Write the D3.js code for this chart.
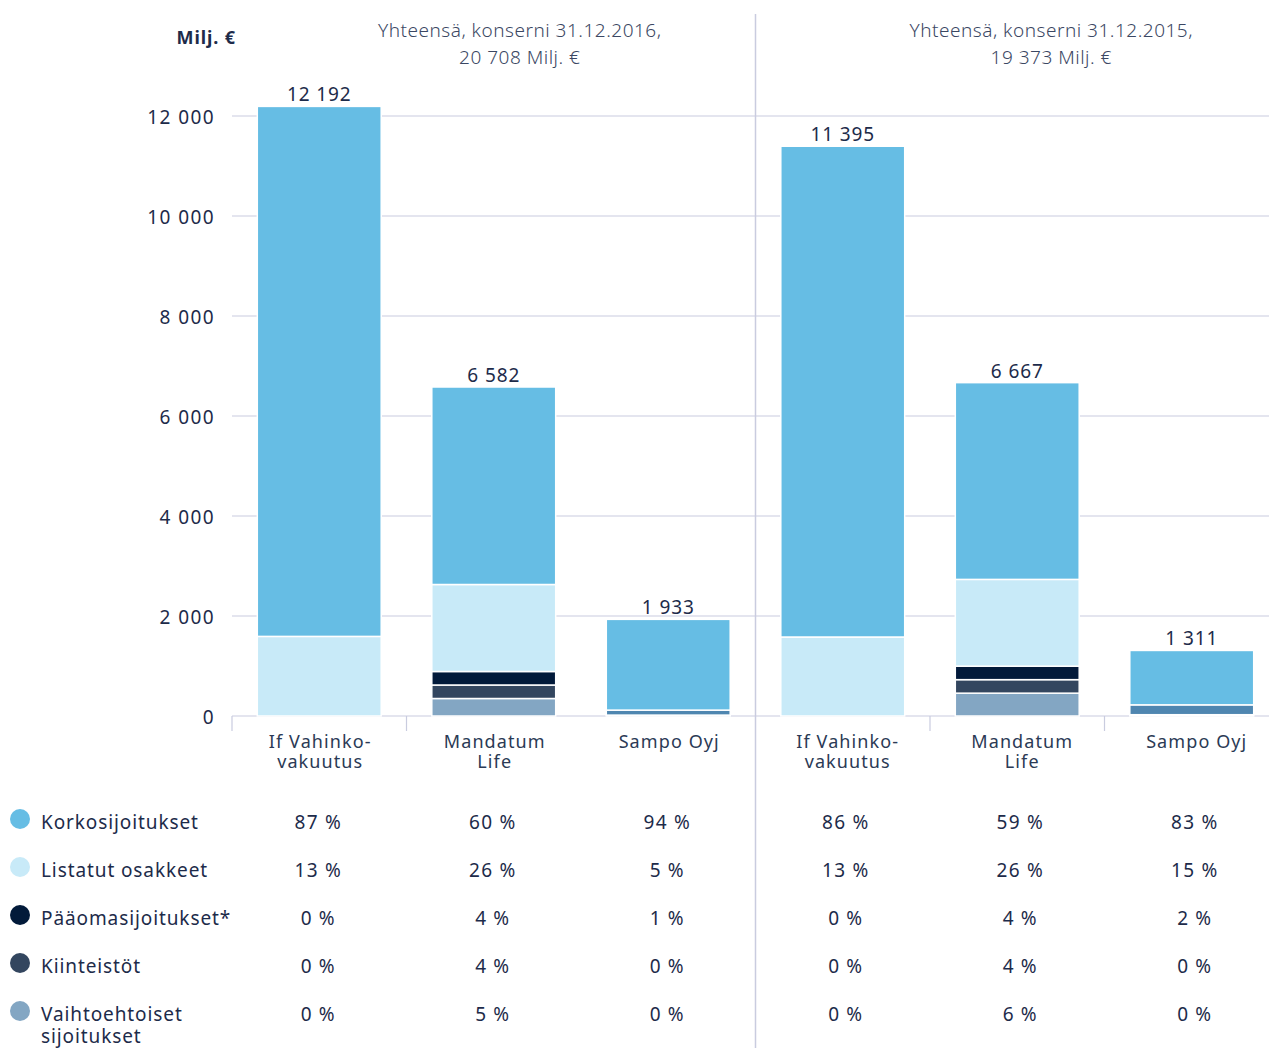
<!DOCTYPE html>
<html>
<head>
<meta charset="utf-8">
<script src="https://cdn.jsdelivr.net/npm/d3@7"></script>
<style>
  body { margin: 0; background: #fff; }
  svg text { font-family: "Noto Sans", "Open Sans", sans-serif; fill: #1d2b4a; letter-spacing: 0.9px; }
</style>
</head>
<body>
<div id="chart"></div>
<script>
// otsikot
const groupDates = ["31.12.2016", "31.12.2015"];
const groupTotals = ["20 708", "19 373"];
// yhtiöt (rivitetty nimi)
const companies = [["If Vahinko-", "vakuutus"], ["Mandatum", "Life"], ["Sampo Oyj"]];
const seriesNames = ["Korkosijoitukset", "Listatut osakkeet", "Pääomasijoitukset*", "Kiinteistöt", ["Vaihtoehtoiset", "sijoitukset"]];
const seriesColors = ["#66bde4", "#c8eaf8", "#021a3a", "#33465f", "#83a6c3"];
const sampoColor = "#4f86b0";
const yTicks = [0, 2000, 4000, 6000, 8000, 10000, 12000];

// pylväät: If, Mandatum, Sampo (2016) + If, Mandatum, Sampo (2015)
const barTotals = [12192, 6582, 1933, 11395, 6667, 1311];
const korko = [10600, 3950, 1815, 9815, 3935, 1088];
const listatut = [1592, 1740, 100, 1580, 1735, 197];
const paaoma = [0, 270, 18, 0, 270, 26];
const kiinteistot = [0, 270, 0, 0, 270, 0];
const vaihtoehtoiset = [0, 350, 0, 0, 457, 0];

// taulukon prosentit
const pctKorko = [87, 60, 94, 86, 59, 83];
const pctListatut = [13, 26, 5, 13, 26, 15];
const pctPaaoma = [0, 4, 1, 0, 4, 2];
const pctKiinteistot = [0, 4, 0, 0, 4, 0];
const pctVaihto = [0, 5, 0, 0, 6, 0];

const W = 1269, H = 1048;
const svg = d3.select("#chart").append("svg").attr("width", W).attr("height", H);

const fi = d3.formatLocale({decimal: ",", thousands: " ", grouping: [3], currency: ["", " €"]});
const fmt = fi.format(",d");

const bars = barTotals.map((t, i) => ({
    id: i, company: companies[i % 3], sampo: i % 3 === 2,
    total: t, k0: korko[i], k1: listatut[i], k2: paaoma[i], k3: kiinteistot[i], k4: vaihtoehtoiset[i]
}));
const pcts = [pctKorko, pctListatut, pctPaaoma, pctKiinteistot, pctVaihto];

const x = d3.scaleBand().domain(bars.map(d => d.id)).range([232, 1279])
    .paddingInner(0.29).paddingOuter(0.145);
const y = d3.scaleLinear().domain([0, 12000]).range([716, 116]);
// tekstien pieni siirto ryhmittäin (kuten alkuperäisessä)
const shift = i => i < 3 ? 1 : 5;

// ruudukko
svg.append("g").selectAll("line").data(yTicks).join("line")
    .attr("x1", 232).attr("x2", W)
    .attr("y1", d => y(d)).attr("y2", d => y(d))
    .attr("stroke", "#c9ccdf").attr("stroke-width", 1.2);

// y-akselin luvut
svg.append("g").selectAll("text").data(yTicks).join("text")
    .attr("x", 215).attr("y", d => y(d) + 1).attr("dy", "0.36em")
    .attr("text-anchor", "end").style("font-size", "19px").style("letter-spacing", "1.4px")
    .text(d => fmt(d));

svg.append("text").attr("x", 236).attr("y", 44).attr("text-anchor", "end")
    .style("font-size", "18px").style("font-weight", "bold").text("Milj. €");

// jakoviiva vuosien välissä
const splitX = x(3) - x.step() * x.paddingInner() / 2;
svg.append("line").attr("x1", splitX).attr("x2", splitX).attr("y1", 14).attr("y2", H)
    .attr("stroke", "#c9ccdf").attr("stroke-width", 1.5);

// akselin pikkuviivat
[0, 1, 4, 5].forEach(i => {
    const tx = x(i) - x.step() * x.paddingInner() / 2;
    svg.append("line").attr("x1", tx).attr("x2", tx).attr("y1", 716).attr("y2", 731)
        .attr("stroke", "#c9ccdf").attr("stroke-width", 1.2);
});

// ryhmäotsikot
groupDates.forEach((d, g) => {
    const cx = (x(g * 3) + x(g * 3 + 2) + x.bandwidth()) / 2 + (g ? 34 : 26);
    const t = svg.append("text").attr("x", cx).attr("text-anchor", "middle")
        .style("font-size", "19px").style("font-weight", 300).style("fill", "#3b4763")
        .style("letter-spacing", "0.5px");
    t.append("tspan").attr("x", cx).attr("y", 37).text("Yhteensä, konserni " + d + ",");
    t.append("tspan").attr("x", cx).attr("y", 64).text(groupTotals[g] + " Milj. €");
});

// pinotut pylväät
const stack = d3.stack().keys(["k4", "k3", "k2", "k1", "k0"]);
const layers = stack(bars);
const keyIndex = {k0: 0, k1: 1, k2: 2, k3: 3, k4: 4};
svg.append("g").selectAll("g").data(layers).join("g")
    .each(function(layer) {
        const si = keyIndex[layer.key];
        d3.select(this).selectAll("rect").data(layer).join("rect")
            .attr("x", d => x(d.data.id))
            .attr("width", x.bandwidth())
            .attr("y", d => y(d[1]))
            .attr("height", d => Math.max(0, y(d[0]) - y(d[1])))
            .attr("fill", d => (d.data.sampo && si > 0) ? sampoColor : seriesColors[si])
            .attr("stroke", "#fff").attr("stroke-width", 1.5);
    });

// pylväiden summat
svg.append("g").selectAll("text").data(bars).join("text")
    .attr("x", d => x(d.id) + x.bandwidth() / 2)
    .attr("y", d => y(d.total) - 5)
    .attr("text-anchor", "middle").style("font-size", "19px")
    .text(d => fmt(d.total));

// x-akselin nimet
bars.forEach(d => {
    const t = svg.append("text").attr("text-anchor", "middle")
        .style("font-size", "18px").style("fill", "#2b3a55").style("letter-spacing", "1.1px");
    d.company.forEach((line, j) => {
        t.append("tspan").attr("x", x(d.id) + x.bandwidth() / 2 + shift(d.id)).attr("y", 748 + j * 20).text(line);
    });
});

// selite + prosenttitaulukko
seriesNames.forEach((name, s) => {
    const ry = 822 + s * 48;
    svg.append("circle").attr("cx", 20).attr("cy", ry - 3).attr("r", 10).attr("fill", seriesColors[s]);
    const t = svg.append("text").style("font-size", "19px").style("fill", "#1d2b4a");
    const lines = Array.isArray(name) ? name : [name];
    lines.forEach((l, j) => t.append("tspan").attr("x", 41).attr("y", ry + 7 + j * 22).text(l));
    svg.append("g").selectAll("text").data(pcts[s]).join("text")
        .attr("x", (d, i) => x(i) + x.bandwidth() / 2 + shift(i) - 2)
        .attr("y", ry + 7)
        .attr("text-anchor", "middle").style("font-size", "19px").style("letter-spacing", "1.2px")
        .text(d => d + " %");
});
</script>
</body>
</html>
